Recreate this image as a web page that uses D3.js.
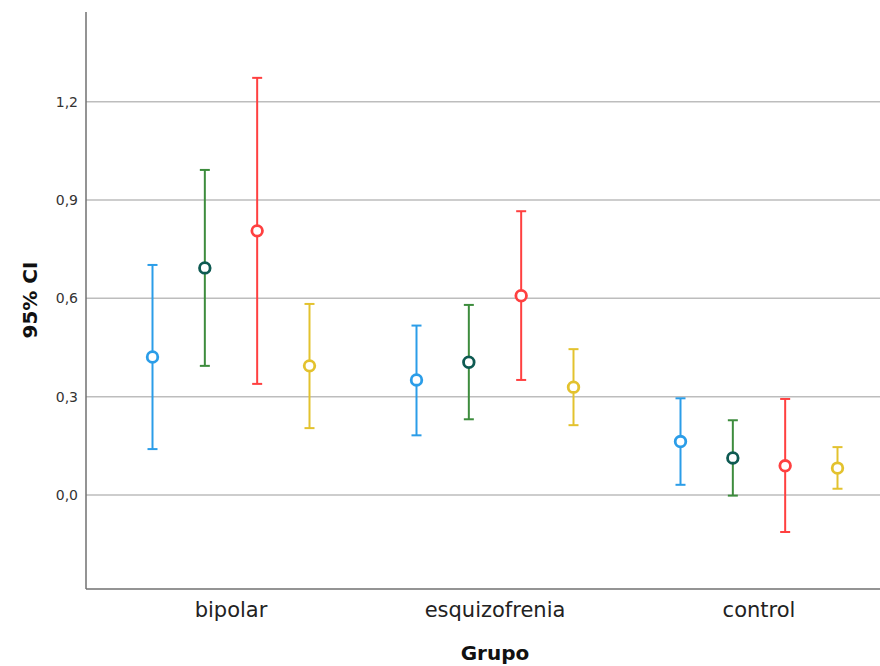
<!DOCTYPE html>
<html><head><meta charset="utf-8">
<script src="https://cdn.jsdelivr.net/npm/d3@7"></script>
<style>body{margin:0;background:#fff;} svg{display:block;font-family:"DejaVu Sans",sans-serif;}</style>
</head><body>
<svg id="c" width="880" height="666"></svg>
<script>
const groups = ["bipolar", "esquizofrenia", "control"];
const series = ["s1", "s2", "s3", "s4"];
const lineColors = ["#2b9de8", "#3d8c3d", "#ff4040", "#e3c22e"];
const markerColors = ["#2b9de8", "#0e5a52", "#ff4040", "#e3c22e"];
// mean, lower, upper per group per series
const means = [
  [0.421, 0.693, 0.806, 0.394],
  [0.351, 0.405, 0.608, 0.329],
  [0.163, 0.113, 0.089, 0.082]
];
const lowers = [
  [0.140, 0.394, 0.339, 0.204],
  [0.182, 0.231, 0.351, 0.213],
  [0.031, -0.002, -0.113, 0.019]
];
const uppers = [
  [0.702, 0.992, 1.273, 0.583],
  [0.517, 0.580, 0.866, 0.445],
  [0.295, 0.228, 0.293, 0.146]
];
const yTicks = [0.0, 0.3, 0.6, 0.9, 1.2];
const yTickLabels = ["0,0", "0,3", "0,6", "0,9", "1,2"];

(function () {
const svg = d3.select("#c");
const pLeft = 86, pRight = 880, pTop = 12, pBottom = 589;
const y = d3.scaleLinear().domain([-0.287, 1.474]).range([pBottom, pTop]);
const x = d3.scaleBand().domain(groups).range([99, 891]);
const xs = d3.scalePoint().domain(series).range([-78.5, 78.5]);

// gridlines
svg.append("g").selectAll("line").data(yTicks).join("line")
  .attr("x1", pLeft).attr("x2", pRight)
  .attr("y1", d => y(d)).attr("y2", d => y(d))
  .attr("stroke", "#bdbdbd").attr("stroke-width", 1.5);

// y axis
const yAxis = d3.axisLeft(y).tickValues(yTicks).tickSize(0).tickPadding(8)
  .tickFormat((d, i) => yTickLabels[i]);
const gy = svg.append("g").attr("transform", `translate(${pLeft},0)`).call(yAxis);
gy.select(".domain").remove();
gy.selectAll("text").attr("font-size", 14).attr("fill", "#333")
  .attr("font-family", "DejaVu Sans, sans-serif");

// x axis
const xAxis = d3.axisBottom(x).tickSize(0).tickPadding(13);
const gx = svg.append("g").attr("transform", `translate(0,${pBottom})`).call(xAxis);
gx.select(".domain").remove();
gx.selectAll("text").attr("font-size", 21).attr("fill", "#222")
  .attr("font-family", "DejaVu Sans, sans-serif");

// axis lines
svg.append("line").attr("x1", pLeft).attr("x2", pLeft).attr("y1", pTop).attr("y2", pBottom)
  .attr("stroke", "#707070").attr("stroke-width", 1.5);
svg.append("line").attr("x1", pLeft).attr("x2", pRight).attr("y1", pBottom).attr("y2", pBottom)
  .attr("stroke", "#707070").attr("stroke-width", 1.5);

// data
const pts = [];
groups.forEach((g, gi) => series.forEach((s, si) => {
  pts.push({g, s, si, m: means[gi][si], lo: lowers[gi][si], hi: uppers[gi][si]});
}));
const cx = d => x(d.g) + x.bandwidth() / 2 + xs(d.s);
const gp = svg.append("g").selectAll("g").data(pts).join("g");
gp.append("line").attr("x1", cx).attr("x2", cx)
  .attr("y1", d => y(d.lo)).attr("y2", d => y(d.hi))
  .attr("stroke", d => lineColors[d.si]).attr("stroke-width", 2);
gp.append("line").attr("x1", d => cx(d) - 5).attr("x2", d => cx(d) + 5)
  .attr("y1", d => y(d.hi)).attr("y2", d => y(d.hi))
  .attr("stroke", d => lineColors[d.si]).attr("stroke-width", 2);
gp.append("line").attr("x1", d => cx(d) - 5).attr("x2", d => cx(d) + 5)
  .attr("y1", d => y(d.lo)).attr("y2", d => y(d.lo))
  .attr("stroke", d => lineColors[d.si]).attr("stroke-width", 2);
gp.append("circle").attr("cx", cx).attr("cy", d => y(d.m)).attr("r", 5.3)
  .attr("fill", "#fff").attr("stroke", d => markerColors[d.si]).attr("stroke-width", 2.8);

// titles
svg.append("text").attr("x", 495).attr("y", 660).attr("text-anchor", "middle")
  .attr("font-size", 20).attr("font-weight", "bold").attr("fill", "#111").text("Grupo");
svg.append("text").attr("transform", "translate(37,300) rotate(-90)").attr("text-anchor", "middle")
  .attr("font-size", 20).attr("font-weight", "bold").attr("fill", "#111").text("95% CI");
})();
</script>
</body></html>
